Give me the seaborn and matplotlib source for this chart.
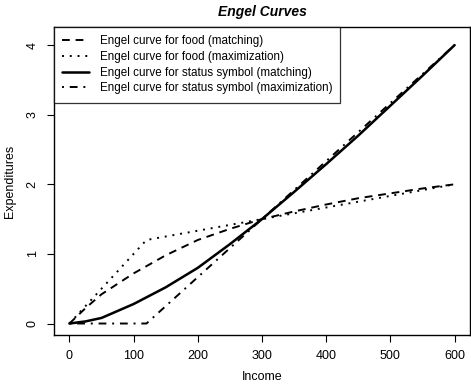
import numpy as np
import pandas as pd
import matplotlib
matplotlib.use('Agg')
import matplotlib.pyplot as plt
import seaborn as sns

# values
income = [0, 25, 50, 75, 100, 150, 200, 250, 300, 350, 400, 450, 500, 550, 600]
food_matching = [0, 0.22, 0.42, 0.57, 0.72, 0.98, 1.20, 1.36, 1.50, 1.61, 1.71, 1.80, 1.87, 1.94, 2.00]
status_matching = [0, 0.03, 0.08, 0.18, 0.28, 0.52, 0.80, 1.14, 1.50, 1.89, 2.29, 2.70, 3.13, 3.56, 4.00]
income_max = [0, 120, 300, 600]
food_max = [0, 1.2, 1.5, 2.0]
status_max = [0, 0, 1.5, 4.0]

labels = ['Engel curve for food (matching)', 'Engel curve for food (maximization)',
          'Engel curve for status symbol (matching)', 'Engel curve for status symbol (maximization)']

sns.set_style('ticks')
plt.rcParams['font.family'] = ['Liberation Sans', 'DejaVu Sans']
plt.rcParams['text.color'] = 'black'
plt.rcParams['axes.labelcolor'] = 'black'

fig = plt.figure(figsize=(4.71, 3.84), dpi=100)
ax = fig.add_axes([54/471, 1-335/384, (470-54)/471, (335-27)/384])

lw = 1.4
sns.lineplot(x=income, y=food_matching, ax=ax, color='black', lw=lw, label=labels[0]).lines[-1].set_dashes((4, 3))
sns.lineplot(x=income_max, y=food_max, ax=ax, color='black', lw=lw, label=labels[1]).lines[-1].set_dashes((1, 3))
sns.lineplot(x=income, y=status_matching, ax=ax, color='black', lw=lw * 1.3, label=labels[2])
sns.lineplot(x=income_max, y=status_max, ax=ax, color='black', lw=lw, label=labels[3]).lines[-1].set_dashes((1, 3, 4, 3))

ax.set_xlim(-24, 624)
ax.set_ylim(-0.165, 4.26)
ax.set_xticks([0, 100, 200, 300, 400, 500, 600])
ax.set_yticks([0, 1, 2, 3, 4])
ax.tick_params(axis='both', labelsize=9, length=5, width=0.8, color='black', labelcolor='black', pad=6)
for t in ax.get_yticklabels():
    t.set_rotation(90)
    t.set_va('center')
for s in ax.spines.values():
    s.set_visible(True)
    s.set_linewidth(1.0)
    s.set_color('black')

ax.set_xlabel('Income', fontsize=9, labelpad=6)
ax.set_ylabel('Expenditures', fontsize=9, labelpad=8)
ax.set_title('Engel Curves', fontsize=10, fontweight='bold', fontstyle='italic', pad=8)

lg = ax.legend(loc='upper left', borderaxespad=0, fontsize=8.4, fancybox=False, frameon=True,
               edgecolor='black', handlelength=2.3, labelspacing=0.32, borderpad=0.7, handletextpad=0.9)
lg.get_frame().set_linewidth(0.9)

fig.savefig('out.png', dpi=100)
